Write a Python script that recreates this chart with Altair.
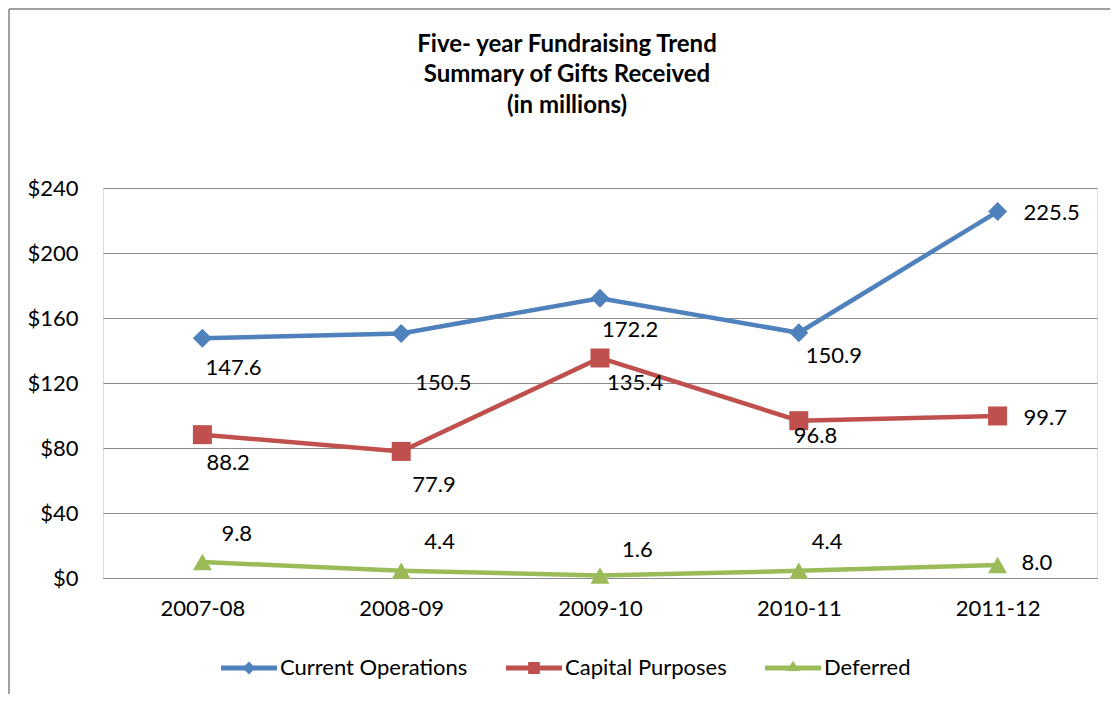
import altair as alt
import pandas as pd

# ---- data ----
years = ["2007-08", "2008-09", "2009-10", "2010-11", "2011-12"]
current_operations = [147.6, 150.5, 172.2, 150.9, 225.5]
capital_purposes = [88.2, 77.9, 135.4, 96.8, 99.7]
deferred = [9.8, 4.4, 1.6, 4.4, 8.0]
series_names = ["Current Operations", "Capital Purposes", "Deferred"]
y_ticks = [0, 40, 80, 120, 160, 200, 240]
title_lines = ["Five- year Fundraising Trend", "Summary of Gifts Received", "(in millions)"]

# ---- styles ----
series_colors = ["#4F81BD", "#C0504D", "#9BBB59"]
marker_shapes = ["diamond", "square", "triangle-up"]
marker_sizes = [361, 361, 420]
legend_shapes = [
    "M-1,-0.09H1V0.09H-1Z M0,-0.23L0.23,0L0,0.23L-0.23,0Z",
    "M-1,-0.09H1V0.09H-1Z M-0.21,-0.21H0.21V0.21H-0.21Z",
    "M-1,-0.09H1V0.09H-1Z M0,-0.26L0.23,0.11H-0.23Z",
]
label_dx = [[3, 14, 2, 7, 26], [4, 11, 7, -5, 26], [19, 23, 22, 13, 24]]
label_dy = [[30, 50, 32, 23, 1], [28, 34, 25, 15, 2], [-28, -29, -25, -29, -2]]
title_y = [-143, -113, -82]   # pixel offsets of the title lines above the plot area
title_x = 464
FONT = "Lato"

values_by_series = [current_operations, capital_purposes, deferred]
rows = []
for s, vals in zip(series_names, values_by_series):
    for yr, v in zip(years, vals):
        rows.append({"year": yr, "series": s, "value": v, "label": f"{v:.1f}"})
df = pd.DataFrame(rows)

x_enc = alt.X("year:O", sort=years, scale=alt.Scale(type="point", padding=0.5),
              axis=alt.Axis(title=None, labelAngle=0, ticks=False, domain=True,
                            domainColor="#8c8c8c", domainWidth=1.2, grid=False,
                            labelPadding=20, labelFontSize=22, labelFont=FONT,
                            labelColor="#000000"))
y_enc = alt.Y("value:Q", scale=alt.Scale(domain=[0, 240], nice=False, zero=True),
              axis=alt.Axis(title=None, values=y_ticks, grid=True, gridColor="#8c8c8c",
                            gridWidth=1.2, domain=False, ticks=False, labelPadding=25,
                            labelFontSize=22, labelFont=FONT, labelColor="#000000",
                            labelExpr="'$' + datum.value"))

color_scale = alt.Scale(domain=series_names, range=series_colors)

base = alt.Chart(df)

lines = base.mark_line(strokeWidth=4.5).encode(
    x=x_enc, y=y_enc,
    color=alt.Color("series:N", scale=color_scale, legend=None),
)

points = base.mark_point(filled=True, opacity=1).encode(
    x=x_enc, y=y_enc,
    color=alt.Color("series:N", scale=color_scale, legend=None),
    shape=alt.Shape("series:N", scale=alt.Scale(domain=series_names, range=marker_shapes), legend=None),
    size=alt.Size("series:N", scale=alt.Scale(domain=series_names, range=marker_sizes), legend=None),
)

label_layers = []
for si, s in enumerate(series_names):
    for yi, yr in enumerate(years):
        sub = df[(df.series == s) & (df.year == yr)]
        label_layers.append(
            alt.Chart(sub).mark_text(align="left", baseline="middle", font=FONT, fontSize=22,
                                     color="#000000", dx=label_dx[si][yi], dy=label_dy[si][yi])
            .encode(x=x_enc, y=y_enc, text="label:N")
        )

legend_props = dict(title=None, orient="none", legendX=118, legendY=452,
                    direction="horizontal", symbolSize=3136, symbolStrokeWidth=0,
                    labelFont=FONT, labelFontSize=22, labelColor="#000000",
                    labelOffset=3, columnPadding=38, padding=0, labelLimit=400)

legend_layer = base.mark_point(filled=True, opacity=1, size=3136).encode(
    x=x_enc, y=y_enc,
    color=alt.Color("series:N", scale=color_scale, legend=alt.Legend(**legend_props)),
    shape=alt.Shape("series:N", scale=alt.Scale(domain=series_names, range=legend_shapes),
                    legend=alt.Legend(**legend_props)),
).transform_filter("false")

frame_df = pd.DataFrame({"k": [0]})
title_layers = []
for line, ty in zip(title_lines, title_y):
    title_layers.append(
        alt.Chart(pd.DataFrame({"t": [line]})).mark_text(
            align="center", baseline="middle", font=FONT, fontSize=24, fontWeight="bold",
            color="#000000").encode(x=alt.value(title_x), y=alt.value(ty), text="t:N")
    )

left_border = alt.Chart(frame_df).mark_rule(color="#a0a0a0", strokeWidth=2).encode(
    x=alt.value(-94), y=alt.value(-179), y2=alt.value(506))
top_border = alt.Chart(frame_df).mark_rule(color="#a0a0a0", strokeWidth=2).encode(
    x=alt.value(-94), x2=alt.value(1007), y=alt.value(-179))

chart = alt.layer(lines, points, *label_layers, legend_layer, *title_layers,
                  left_border, top_border).resolve_scale(
    color="independent", shape="independent", size="independent"
).properties(
    width=994, height=390,
    autosize=alt.AutoSizeParams(type="none"),
    padding={"left": 95, "top": 180, "right": 13, "bottom": 116},
).configure_view(strokeOpacity=0).configure(background="#ffffff")

chart.save("out.html", embed_options={"renderer": "svg", "actions": False})
